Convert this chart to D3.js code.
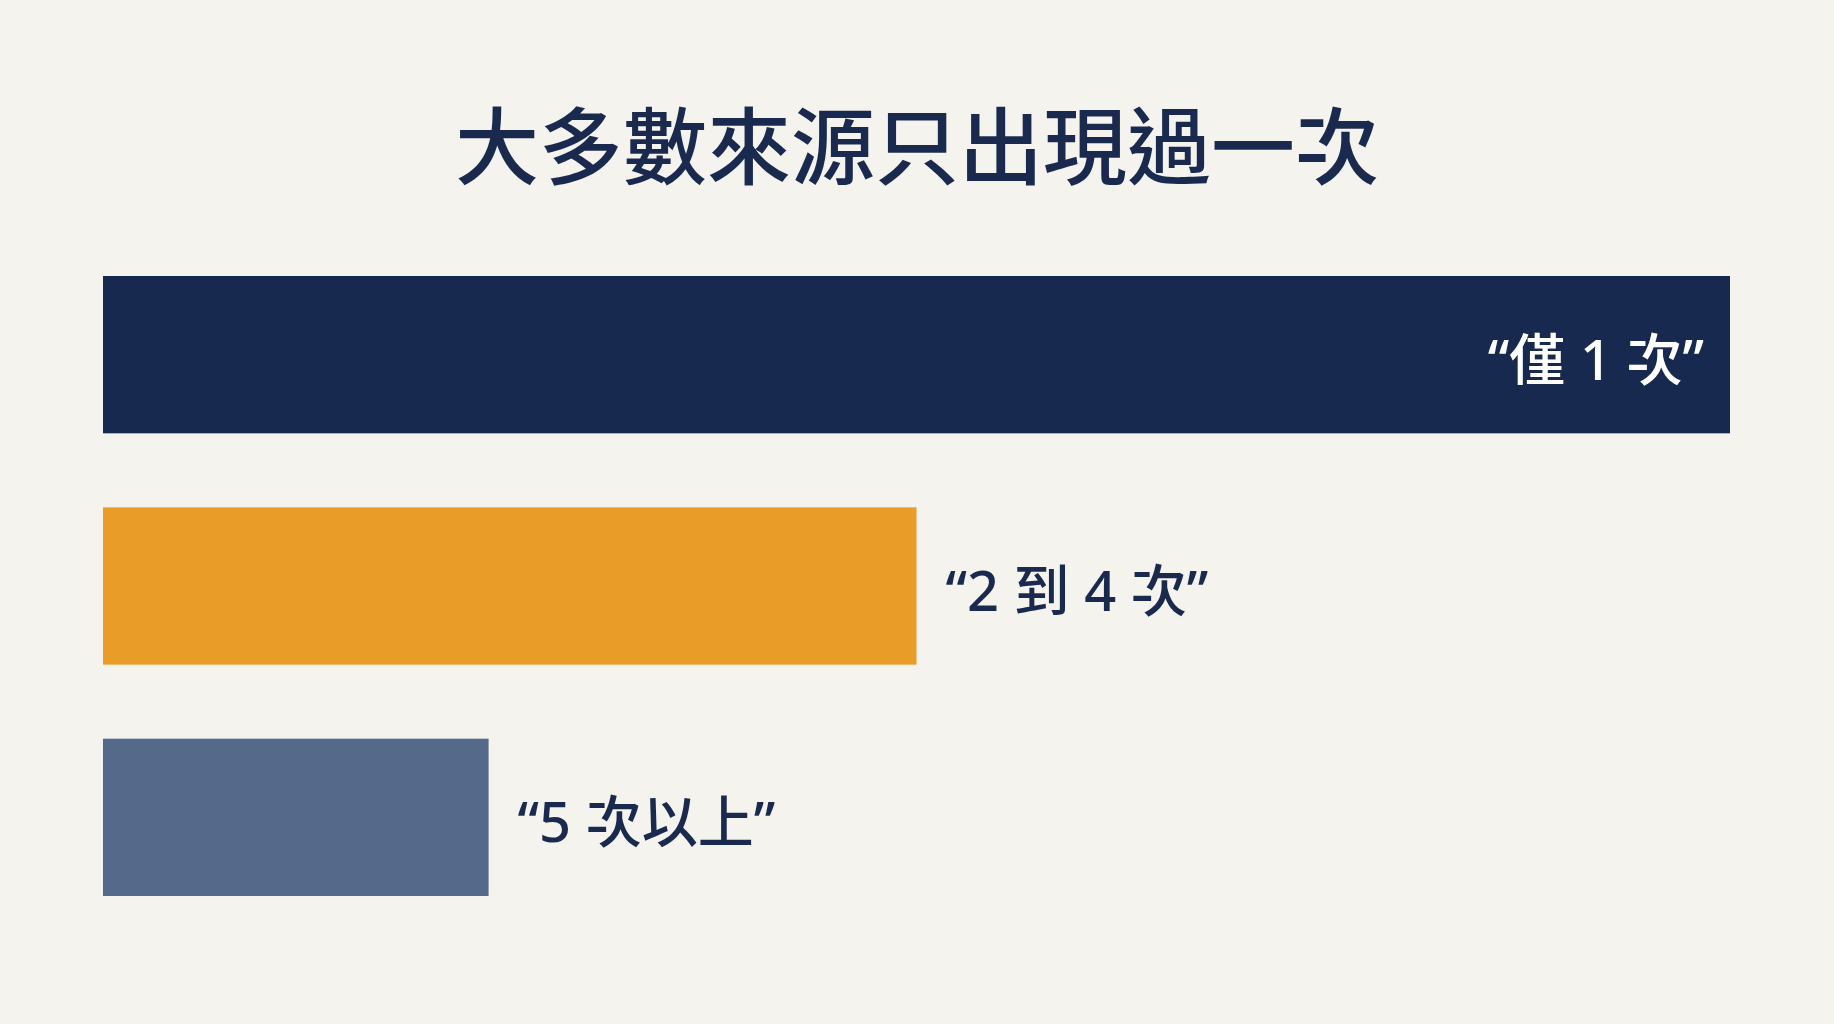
<!DOCTYPE html>
<html lang="zh-Hant">
<head>
<meta charset="utf-8">
<script src="https://cdn.jsdelivr.net/npm/d3@7"></script>
<style>
  html, body { margin: 0; padding: 0; background: #f5f3ee; }
  svg { display: block; }
  text { font-family: "Noto Sans CJK TC", "Noto Sans", sans-serif; }
  text.label { font-family: "Noto Sans", "Noto Sans CJK TC", sans-serif; }
</style>
</head>
<body>
<svg id="chart"></svg>
<script>
// chart data
var title = "大多數來源只出現過一次";
var categories = ["“僅 1 次”", "“2 到 4 次”", "“5 次以上”"];
var values = [100, 50, 23.7];
var colors = ["#17294f", "#e99d28", "#55698b"];

var width = 1834, height = 1024;

var svg = d3.select("#chart")
    .attr("width", width)
    .attr("height", height);

svg.append("rect")
    .attr("width", width)
    .attr("height", height)
    .attr("fill", "#f5f3ee");

svg.append("text")
    .attr("x", width / 2)
    .attr("y", 141)
    .attr("text-anchor", "middle")
    .attr("dominant-baseline", "central")
    .attr("font-size", 84)
    .attr("font-weight", 500)
    .attr("fill", "#1a2a4f")
    .text(title);

var x = d3.scaleLinear()
    .domain([0, d3.max(values)])
    .range([103, 1730]);

var y = d3.scaleBand()
    .domain(categories)
    .range([276, 896])
    .paddingInner(0.32)
    .paddingOuter(0);

var rows = categories.map(function(c, i) {
    return {label: c, value: values[i], color: colors[i]};
});

var bar = svg.selectAll("g.bar")
    .data(rows)
    .enter().append("g")
    .attr("class", "bar");

bar.append("rect")
    .attr("x", x(0))
    .attr("y", function(d) { return y(d.label); })
    .attr("width", function(d) { return x(d.value) - x(0); })
    .attr("height", y.bandwidth())
    .attr("fill", function(d) { return d.color; });

// long bar gets its label inside, the others beside the bar
function inside(d) { return x(d.value) - x(0) > 1200; }

bar.append("text")
    .attr("class", "label")
    .attr("x", function(d) { return inside(d) ? x(d.value) - 26 : x(d.value) + 29; })
    .attr("y", function(d) { return y(d.label) + y.bandwidth() / 2 + 3; })
    .attr("text-anchor", function(d) { return inside(d) ? "end" : "start"; })
    .attr("dominant-baseline", "central")
    .attr("font-size", 56)
    .attr("font-weight", 500)
    .attr("fill", function(d) { return inside(d) ? "#ffffff" : "#1a2a4f"; })
    .text(function(d) { return d.label; });
</script>
</body>
</html>
